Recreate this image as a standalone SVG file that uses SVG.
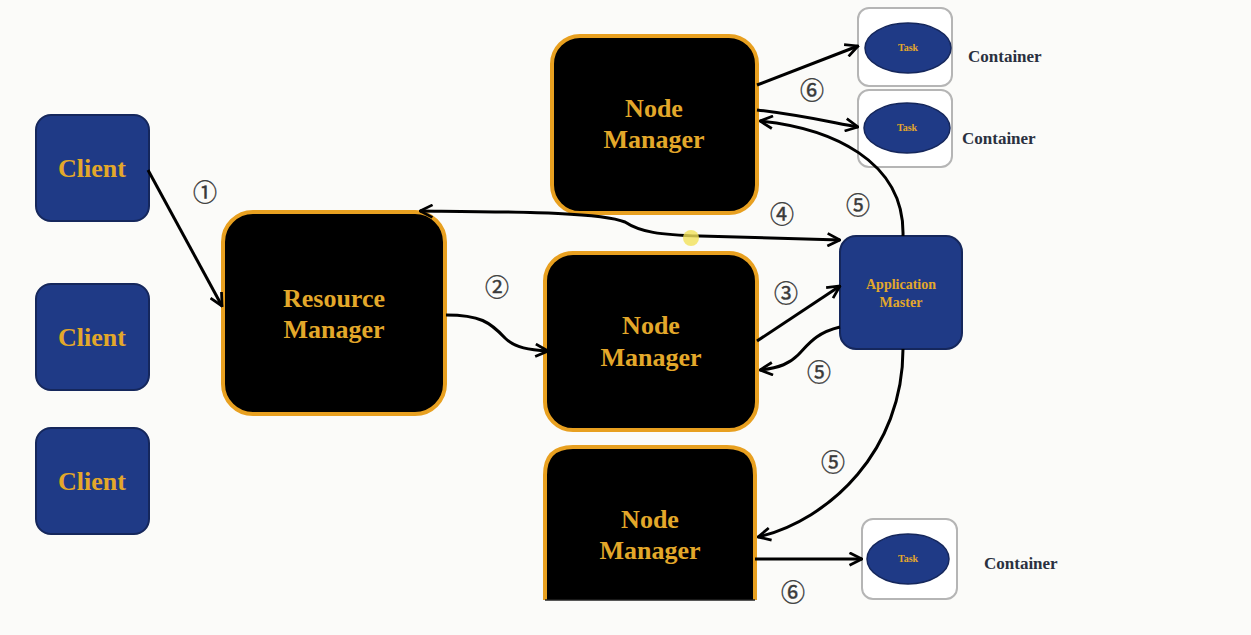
<svg xmlns="http://www.w3.org/2000/svg" width="1251" height="635" viewBox="0 0 1251 635">
  <style>
    .client { fill: #1f3a86; stroke: #15275c; stroke-width: 2; }
    .mgr { fill: #000; stroke: #e8a020; stroke-width: 4; }
    .am { fill: #1f3a86; stroke: #15275c; stroke-width: 2; }
    .cont { fill: #fff; stroke: #b5b5b5; stroke-width: 2; }
    .task { fill: #1f3a86; stroke: #15275c; stroke-width: 1.5; }
    .gold { fill: #e3a82a; font-family: "Liberation Serif", "Times New Roman", "DejaVu Serif", serif; font-weight: bold; text-anchor: middle; }
    .big { font-size: 26px; }
    .small { font-size: 14px; }
    .tiny { font-size: 10px; }
    .ctext { fill: #2a3040; font-family: "Liberation Serif", "Times New Roman", "DejaVu Serif", serif; font-weight: bold; font-size: 17px; }
    .num { fill: #3a3a3a; font-family: "Noto Sans CJK SC", "DejaVu Sans", sans-serif; font-size: 24px; text-anchor: middle; dominant-baseline: central; stroke: #3a3a3a; stroke-width: 0.4; }
    .link { fill: none; stroke: #000; stroke-width: 3; }
  </style>
  <defs>
    <marker id="arrow" viewBox="0 0 12 12" refX="11" refY="6" markerWidth="15" markerHeight="15" markerUnits="userSpaceOnUse" orient="auto-start-reverse">
      <path d="M1,1 L11,6 L1,11" fill="none" stroke="#000" stroke-width="2.2"/>
    </marker>
  </defs>

  <rect width="1251" height="635" fill="#fbfbf9"/>

  <!-- clients -->
  <g id="client1">
    <rect class="client" x="36" y="115" width="113" height="106" rx="15"/>
    <text class="gold big" x="92" y="177">Client</text>
  </g>
  <g id="client2">
    <rect class="client" x="36" y="284" width="113" height="106" rx="15"/>
    <text class="gold big" x="92" y="346">Client</text>
  </g>
  <g id="client3">
    <rect class="client" x="36" y="428" width="113" height="106" rx="15"/>
    <text class="gold big" x="92" y="490">Client</text>
  </g>

  <!-- resource manager -->
  <g id="resource-manager">
    <rect class="mgr" x="223" y="212" width="222" height="202" rx="30"/>
    <text class="gold big" x="334" y="307">Resource</text>
    <text class="gold big" x="334" y="338">Manager</text>
  </g>

  <!-- node managers -->
  <g id="node-manager-top">
    <rect class="mgr" x="552" y="36" width="205" height="177" rx="28"/>
    <text class="gold big" x="654" y="117">Node</text>
    <text class="gold big" x="654" y="148">Manager</text>
  </g>
  <g id="node-manager-mid">
    <rect class="mgr" x="545" y="253" width="212" height="177" rx="28"/>
    <text class="gold big" x="651" y="334">Node</text>
    <text class="gold big" x="651" y="366">Manager</text>
  </g>
  <g id="node-manager-bottom">
    <path class="mgr" d="M545,600 L545,475 Q545,447 573,447 L727,447 Q755,447 755,475 L755,600"/>
    <line x1="545" y1="600" x2="755" y2="600" stroke="#222" stroke-width="1.5"/>
    <text class="gold big" x="650" y="528">Node</text>
    <text class="gold big" x="650" y="559">Manager</text>
  </g>

  <!-- application master -->
  <g id="application-master">
    <rect class="am" x="840" y="236" width="122" height="113" rx="16"/>
    <text class="gold small" x="901" y="289">Application</text>
    <text class="gold small" x="901" y="307">Master</text>
  </g>

  <!-- containers -->
  <g id="container1">
    <rect class="cont" x="858" y="8" width="94" height="78" rx="11"/>
    <ellipse class="task" cx="908" cy="48" rx="43" ry="25"/>
    <text class="gold tiny" x="908" y="51">Task</text>
    <text class="ctext" x="968" y="62">Container</text>
  </g>
  <g id="container2">
    <rect class="cont" x="858" y="90" width="94" height="77" rx="11"/>
    <ellipse class="task" cx="907" cy="128" rx="43" ry="25"/>
    <text class="gold tiny" x="907" y="131">Task</text>
    <text class="ctext" x="962" y="144">Container</text>
  </g>
  <g id="container3">
    <rect class="cont" x="862" y="519" width="95" height="80" rx="11"/>
    <ellipse class="task" cx="908" cy="559" rx="41" ry="25"/>
    <text class="gold tiny" x="908" y="562">Task</text>
    <text class="ctext" x="984" y="569">Container</text>
  </g>

  <!-- connectors -->
  <g id="connectors">
    <path class="link" d="M148,170 L222,306" marker-end="url(#arrow)"/>
    <path class="link" d="M446,315 C480,315 490,322 505,338 C515,348 530,350 548,351" marker-end="url(#arrow)"/>
    <path class="link" d="M420,211 C520,212 600,212 625,222 C640,232 660,235 700,236 L840,240" marker-start="url(#arrow)" marker-end="url(#arrow)"/>
    <path class="link" d="M757,341 L840,286" marker-end="url(#arrow)"/>
    <path class="link" d="M840,327 C815,333 808,345 798,355 C790,363 780,368 760,370" marker-end="url(#arrow)"/>
    <path class="link" d="M903,236 C905,160 830,128 760,121" marker-end="url(#arrow)"/>
    <path class="link" d="M757,110 C800,115 830,122 858,127" marker-end="url(#arrow)"/>
    <path class="link" d="M757,85 L858,46" marker-end="url(#arrow)"/>
    <path class="link" d="M903,349 C903,450 830,520 758,537" marker-end="url(#arrow)"/>
    <path class="link" d="M755,559 L862,559" marker-end="url(#arrow)"/>
  </g>

  <!-- step numbers -->
  <g id="steps">
    <text class="num" x="205" y="190">①</text>
    <text class="num" x="497" y="285">②</text>
    <text class="num" x="786" y="291">③</text>
    <text class="num" x="782" y="212">④</text>
    <text class="num" x="858" y="203">⑤</text>
    <text class="num" x="819" y="370">⑤</text>
    <text class="num" x="833" y="460">⑤</text>
    <text class="num" x="812" y="88">⑥</text>
    <text class="num" x="793" y="590">⑥</text>
  </g>

  <!-- pointer highlight -->
  <circle cx="691" cy="238" r="8" fill="#f2e25a" opacity="0.8"/>
</svg>
